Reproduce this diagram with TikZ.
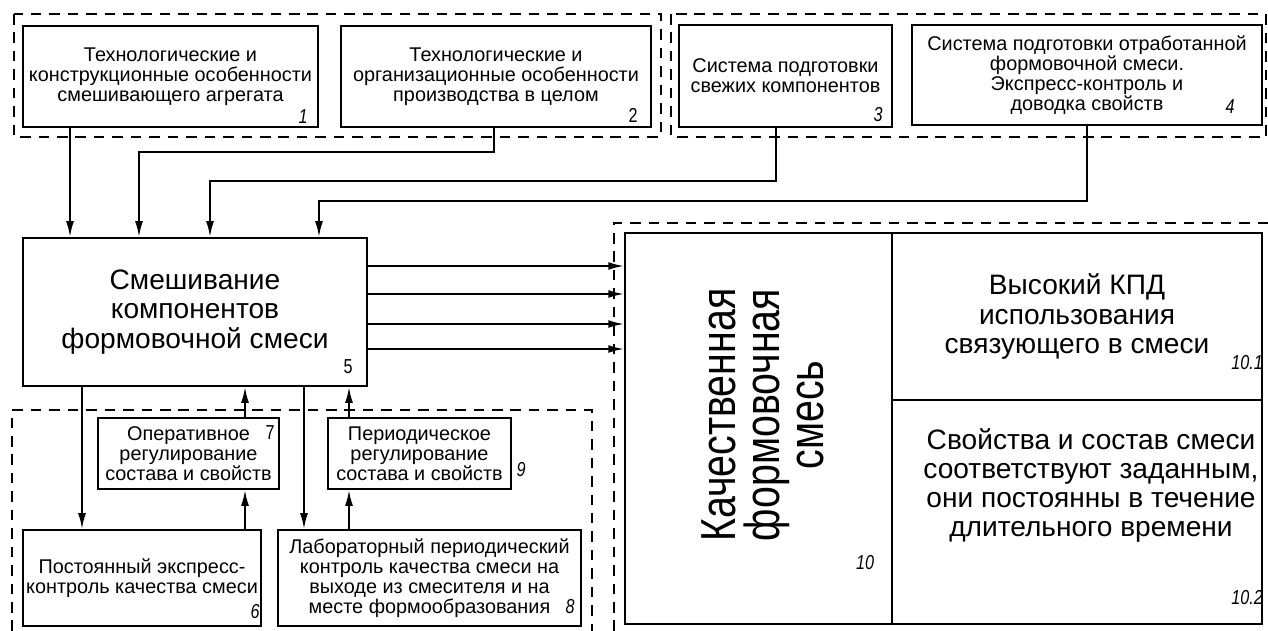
\documentclass[tikz,border=0pt]{standalone}
\usepackage{fontspec}
\setmainfont{Liberation Sans}
\newfontfamily\narrowfont{Liberation Sans}[FakeStretch=0.8]
\usetikzlibrary{arrows.meta,positioning}

\tikzset{
  blk/.style={draw, line width=1.1pt, inner sep=1pt, align=center, font=\fontsize{11.3}{11.5}\selectfont},
  big/.style={font=\fontsize{16}{17}\selectfont},
  num/.style={font=\narrowfont\fontsize{11.5}{11.5}\selectfont\itshape, inner sep=0pt},
  numup/.style={font=\narrowfont\fontsize{11.5}{11.5}\selectfont, inner sep=0pt},
  arr/.style={-{Latex[length=9pt,width=4.5pt]}, line width=1.1pt},
  grp/.style={line width=1pt, dash pattern=on 6pt off 4.5pt},
}

\begin{document}
\begin{tikzpicture}[x=0.02cm, y=-0.02cm]
    \useasboundingbox (0,0) rectangle (1268,631);

    \draw[grp] (14,14) rectangle (661,137);
    \draw[grp] (671,14) rectangle (1266,137);
    \draw[grp] (12,631) -- (12,410) -- (592,410) -- (592,631);
    \draw[grp] (614,631) -- (614,223) -- (1268,223);

    \node[blk, minimum width=5.9cm, minimum height=2.02cm] (b1) at (170.5,76.5)
      {Технологические и\\конструкционные особенности\\смешивающего агрегата};
    \node[blk, minimum width=6.2cm, minimum height=2.02cm] (b2) at (496,76.5)
      {Технологические и\\организационные особенности\\производства в целом};
    \node[blk, minimum width=4.26cm, minimum height=2.04cm] (b3) at (785.5,76)
      {Система подготовки\\свежих компонентов};
    \node[blk, minimum width=7cm, minimum height=2cm] (b4) at (1087,75)
      {Система подготовки отработанной\\формовочной смеси.\\Экспресс-контроль и\\доводка свойств};
    \node[blk, big, minimum width=6.88cm, minimum height=2.96cm] (b5) at (195,312)
      {Смешивание\\компонентов\\формовочной смеси};
    \node[blk, minimum width=4.76cm, minimum height=1.92cm] (b6) at (142,578)
      {Постоянный экспресс-\\контроль качества смеси};
    \node[blk, minimum width=3.62cm, minimum height=1.42cm] (b7) at (188.5,453.5)
      {Оперативное\\регулирование\\состава и свойств};
    \node[blk, minimum width=6.06cm, minimum height=1.92cm] (b8) at (429.5,578)
      {Лабораторный периодический\\контроль качества смеси на\\выходе из смесителя и на\\месте формообразования};
    \node[blk, minimum width=3.66cm, minimum height=1.42cm] (b9) at (419.5,453.5)
      {Периодическое\\регулирование\\состава и свойств};
    \node[blk, minimum width=5.34cm, minimum height=7.82cm] (b10) at (758.5,428.5) {};
    \node[blk, big, minimum width=7.4cm, minimum height=3.34cm] (b101) at (1077,316.5)
      {Высокий КПД\\использования\\связующего в смеси};
    \node[blk, minimum width=7.4cm, minimum height=4.48cm] (b102) at (1077,512) {};
    \node[align=center, font=\fontsize{16}{16.5}\selectfont] (t102) at (1091,485)
      {Свойства и состав смеси\\соответствуют заданным,\\они постоянны в течение\\длительного времени};
    \node[align=center, rotate=90, font=\narrowfont\fontsize{28}{25}\selectfont] (t10) at (763,415)
      {Качественная\\формовочная\\смесь};

    \node[num] (n1) at (303,117) {1};
    \node[numup] (n2) at (633,115) {2};
    \node[num] (n3) at (878,115) {3};
    \node[num] (n4) at (1230,107) {4};
    \node[numup] (n5) at (348,367) {5};
    \node[num] (n6) at (255,612) {6};
    \node[numup] (n7) at (270,433) {7};
    \node[num] (n8) at (570,607) {8};
    \node[num] (n9) at (521,470) {9};
    \node[num] (n10) at (865,563) {10};
    \node[num] (n101) at (1247,363) {10.1};
    \node[num] (n102) at (1247,598) {10.2};

    \coordinate (s1) at (70,180);
    \coordinate (t2) at (494,152);
    \coordinate (s2) at (139,152);
    \coordinate (t3) at (776,181);
    \coordinate (s3) at (210,181);
    \coordinate (s4) at (319,201);
    \draw[arr] (b1.south -| s1) -- (b5.north -| s1);
    \draw[arr] (b2.south -| t2) -- (t2) -- (s2) -- (b5.north -| s2);
    \draw[arr] (b3.south -| t3) -- (t3) -- (s3) -- (b5.north -| s3);
    \draw[arr] (b4.south) |- (s4) -- (b5.north -| s4);

    \foreach \yy in {266,294,324,349}
      \draw[arr] (b5.east |- 0,\yy) -- (b10.west |- 0,\yy);

    \coordinate (x6) at (82,500);
    \coordinate (x7) at (245,500);
    \coordinate (x8) at (304,500);
    \coordinate (x9) at (349,500);
    \draw[arr] (b5.south -| x6) -- (b6.north -| x6);
    \draw[arr] (b6.north -| x7) -- (b7.south -| x7);
    \draw[arr] (b7.north -| x7) -- (b5.south -| x7);
    \draw[arr] (b5.south -| x8) -- (b8.north -| x8);
    \draw[arr] (b8.north -| x9) -- (b9.south -| x9);
    \draw[arr] (b9.north -| x9) -- (b5.south -| x9);
\end{tikzpicture}
\end{document}
